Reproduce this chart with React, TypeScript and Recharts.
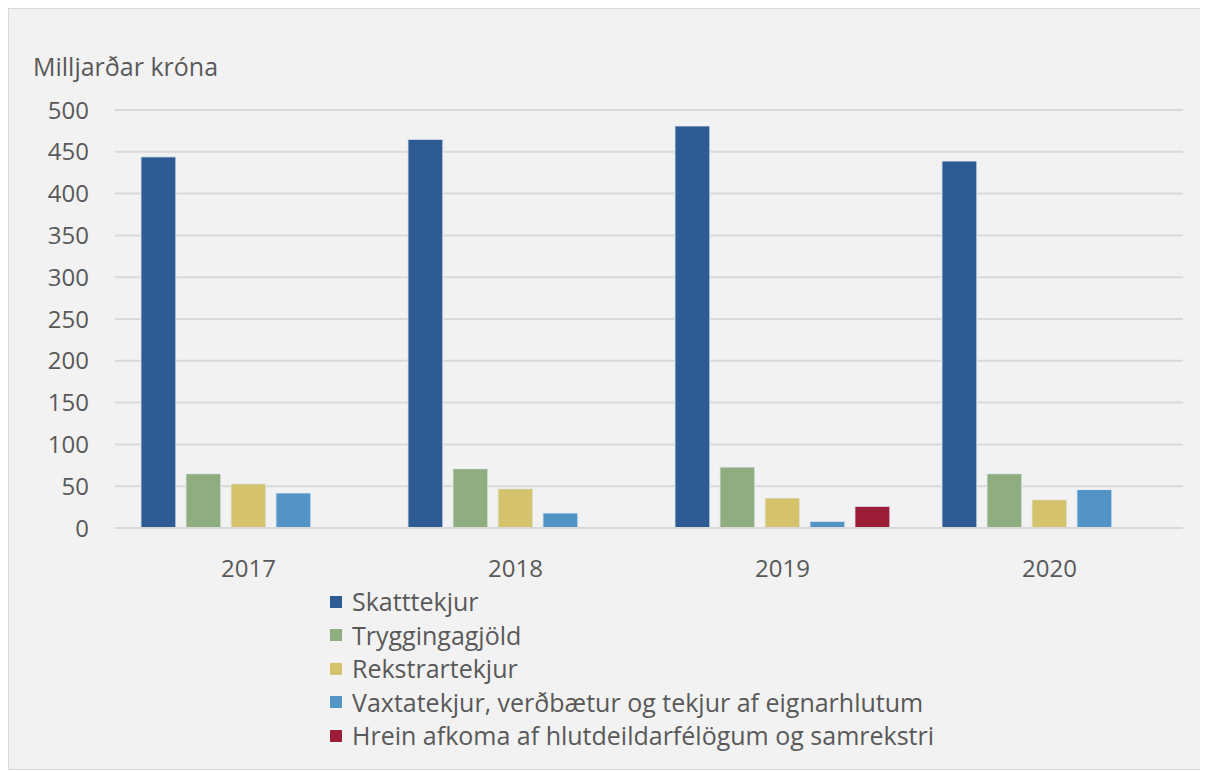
import React from 'react';
import { Bar, BarChart, CartesianGrid, XAxis, YAxis } from 'recharts';

const years = ['2017', '2018', '2019', '2020'];
const skatttekjur = [444, 465, 481, 439];
const tryggingagjold = [65, 71, 73, 65];
const rekstrartekjur = [53, 47, 36, 34];
const vaxtatekjur = [42, 18, 8, 46];
const hreinAfkoma = [null, null, 26, null];
const yTicks = [0, 50, 100, 150, 200, 250, 300, 350, 400, 450, 500];

const series = [
  { key: 'skatt', name: 'Skatttekjur', color: '#2e5b93' },
  { key: 'trygg', name: 'Tryggingagjöld', color: '#8fad7f' },
  { key: 'rekstur', name: 'Rekstrartekjur', color: '#d4c26c' },
  { key: 'vextir', name: 'Vaxtatekjur, verðbætur og tekjur af eignarhlutum', color: '#5394c6' },
  { key: 'afkoma', name: 'Hrein afkoma af hlutdeildarfélögum og samrekstri', color: '#9b1d36' },
];

const data = years.map((year, i) => ({
  year,
  skatt: skatttekjur[i],
  trygg: tryggingagjold[i],
  rekstur: rekstrartekjur[i],
  vextir: vaxtatekjur[i],
  afkoma: hreinAfkoma[i],
}));

const FONT = '"Open Sans", "Noto Sans", sans-serif';
const TEXT = '#595959';
const GRID = '#d9d9d9';

function LegendBox() {
  return (
    <div style={{ position: 'absolute', left: 321, top: 576, fontSize: 25, color: TEXT, lineHeight: '33.5px' }}>
      {series.map((s) => (
        <div key={s.key} style={{ display: 'flex', alignItems: 'center', height: 33.5 }}>
          <span style={{ width: 12, height: 12, background: s.color, marginRight: 10, display: 'inline-block' }} />
          <span>{s.name}</span>
        </div>
      ))}
    </div>
  );
}

export default function App() {
  return (
    <div
      style={{
        position: 'relative',
        width: 1194,
        height: 760,
        border: `1px solid ${GRID}`,
        background: '#f2f2f2',
        fontFamily: FONT,
      }}
    >
      <div style={{ position: 'absolute', left: 24, top: 40, fontSize: 25, color: TEXT }}>Milljarðar króna</div>
      <BarChart
        width={1194}
        height={760}
        data={data}
        margin={{ top: 101, right: 20, bottom: 181, left: 0 }}
        barCategoryGap="9.7%"
        barGap={10}
      >
        <CartesianGrid stroke={GRID} strokeWidth={2} vertical={false} />
        <XAxis
          dataKey="year"
          height={60}
          axisLine={{ stroke: GRID, strokeWidth: 2 }}
          tickLine={false}
          tickSize={0}
          tickMargin={32}
          tick={{ fill: TEXT, fontSize: 24, fontFamily: FONT }}
        />
        <YAxis
          width={106}
          domain={[0, 500]}
          ticks={yTicks}
          axisLine={false}
          tickLine={false}
          tickSize={0}
          tickMargin={26}
          tick={{ fill: TEXT, fontSize: 24, fontFamily: FONT }}
        />
        {series.map((s) => (
          <Bar
            key={s.key}
            dataKey={s.key}
            name={s.name}
            fill={s.color}
            stroke="#e8eef5"
            strokeWidth={1}
            isAnimationActive={false}
          />
        ))}
      </BarChart>
      <LegendBox />
    </div>
  );
}
